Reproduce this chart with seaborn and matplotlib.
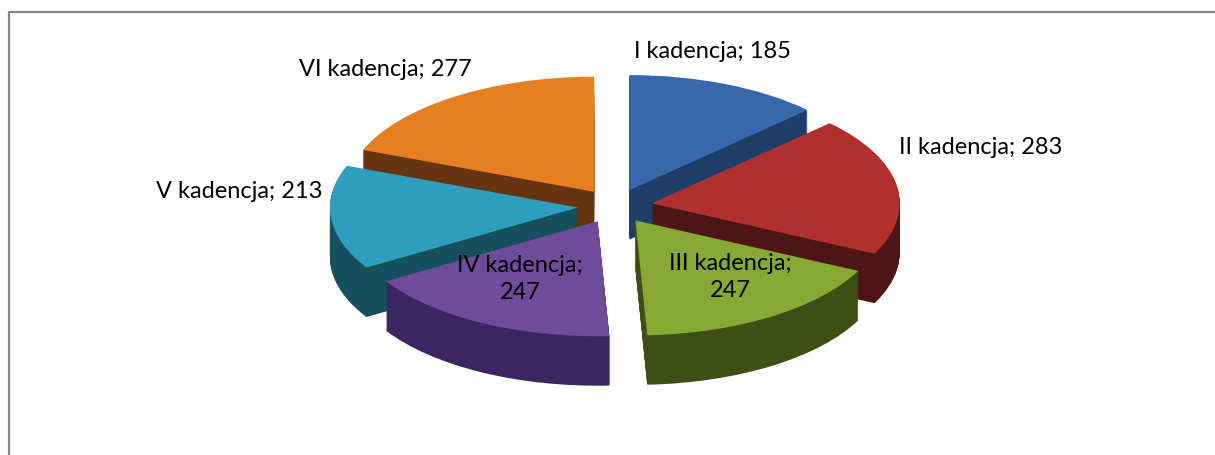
import numpy as np
import matplotlib
matplotlib.use("Agg")
import matplotlib.pyplot as plt
import seaborn as sns
from matplotlib.lines import Line2D

sns.set_theme(style="white")
plt.rcParams['font.family'] = ['Lato', 'DejaVu Sans']

# ---- data ----
categories = ["I kadencja", "II kadencja", "III kadencja", "IV kadencja", "V kadencja", "VI kadencja"]
values = [185, 283, 247, 247, 213, 277]
label_texts = ["I kadencja; 185", "II kadencja; 283", "III kadencja;\n247",
               "IV kadencja;\n247", "V kadencja; 213", "VI kadencja; 277"]

# ---- styles ----
top_colors = ["#3868AC", "#B0302E", "#88A834", "#6E4C9A", "#2E9EBC", "#E57F22"]
side_colors = ["#1E3D68", "#4E1515", "#3E4E14", "#3A2660", "#164F5E", "#66340F"]
explode_amt = 0.15
thickness = 0.43
n_layers = 60

W, H, DPI = 1215, 455, 100
fig = plt.figure(figsize=(W / DPI, H / DPI), dpi=DPI)
ax = fig.add_axes([0, 0, 1, 1])

cx_px, cy_px = 615, 206
sx, sy = 248, 115  # px per data unit
def px2d(px, py):
    return (px - cx_px) / sx, (cy_px - py) / sy

explode = [explode_amt] * len(values)

# depth ordering: wedges whose middle is further back get drawn first
total = sum(values)
angles = []
start = 90.0
for v in values:
    span = v / total * 360.0
    angles.append(start - span / 2)
    start -= span
depth = [np.sin(np.radians(a)) for a in angles]
order = np.argsort(depth)[::-1]
rank = {int(i): r for r, i in enumerate(order)}

offsets = np.linspace(-thickness, 0, n_layers)
for li, off in enumerate(offsets):
    is_top = li == n_layers - 1
    cols = top_colors if is_top else side_colors
    wedges, _ = ax.pie(values, explode=explode, colors=cols, startangle=90,
                       counterclock=False, center=(0, off), radius=1.0,
                       wedgeprops=dict(linewidth=0, antialiased=True))
    for i, w in enumerate(wedges):
        w.set_zorder(rank[i] * 1000 + li + 1)

ax.set_aspect('auto')
ax.set_xlim(-cx_px / sx, (W - cx_px) / sx)
ax.set_ylim(-(H - cy_px) / sy, cy_px / sy)
ax.axis('off')

# labels (layout positions in pixels)
label_pos_px = [(712, 52), (981, 147), (730, 277), (520, 279), (239, 192), (385, 70)]
for txt, (px, py) in zip(label_texts, label_pos_px):
    x, y = px2d(px, py)
    ax.text(x, y, txt, ha='center', va='center', fontsize=17, color='black',
            zorder=20000, linespacing=1.4)

# chart border (left and top)
fig.add_artist(Line2D([8.5 / W, 8.5 / W], [0, 1 - 12 / H], transform=fig.transFigure,
                      color='#868686', linewidth=1.6))
fig.add_artist(Line2D([8.5 / W, 1], [1 - 12 / H, 1 - 12 / H], transform=fig.transFigure,
                      color='#868686', linewidth=1.6))

fig.savefig("out.png", dpi=DPI, facecolor='white')
